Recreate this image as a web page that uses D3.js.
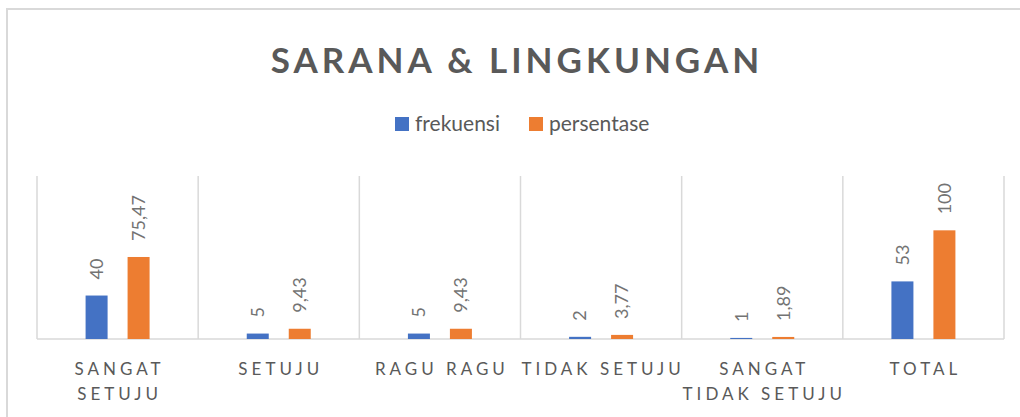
<!DOCTYPE html>
<html>
<head>
	<title>Sarana & Lingkungan</title>
	<script src="https://d3js.org/d3.v7.min.js"></script>
	<style>
	html, body {margin: 0; background: #fff; overflow: hidden}
	text {font-family: Lato, "Open Sans", sans-serif; fill: #595959;}
	.title {font-size: 35px; font-weight: bold; letter-spacing: 4px;}
	.legend text {font-size: 21px;}
	.cat {font-size: 17px; letter-spacing: 4px;}
	.val {font-size: 18px; fill: #737373;}
	.grid {stroke: #d9d9d9; stroke-width: 1.5px;}
	</style>
</head>
<body>
<script>
	var width = 1020, height = 417;

	var categories = ["SANGAT SETUJU", "SETUJU", "RAGU RAGU", "TIDAK SETUJU", "SANGAT TIDAK SETUJU", "TOTAL"];
	var seriesNames = ["frekuensi", "persentase"];
	var frekuensi = [40, 5, 5, 2, 1, 53];
	var persentase = [75.47, 9.43, 9.43, 3.77, 1.89, 100];
	var colors = ["#4472C4", "#ED7D31"];

	var values = [frekuensi, persentase];

	var plot = {left: 37, right: 1004, top: 176, bottom: 339};

	var svg = d3.select("body").append("svg")
		.attr("width", width)
		.attr("height", height);

	// outer chart border (cropped at right and bottom)
	svg.append("path")
		.attr("d", "M7,420 L7,9 L1030,9")
		.attr("fill", "none")
		.attr("stroke", "#d9d9d9")
		.attr("stroke-width", 2);

	svg.append("text")
		.attr("class", "title")
		.attr("x", 517)
		.attr("y", 73)
		.attr("text-anchor", "middle")
		.text("SARANA & LINGKUNGAN");

	// legend
	var legendX = [395, 529];
	var legend = svg.append("g").attr("class", "legend");
	seriesNames.forEach(function(name, i){
		legend.append("rect")
			.attr("x", legendX[i])
			.attr("y", 117)
			.attr("width", 14)
			.attr("height", 14)
			.attr("fill", colors[i]);
		legend.append("text")
			.attr("x", legendX[i] + 20)
			.attr("y", 131)
			.text(name);
	});

	var x = d3.scaleBand()
		.domain(categories)
		.range([plot.left, plot.right]);

	var bw = x.bandwidth();
	var xs = d3.scaleBand()
		.domain(seriesNames)
		.range([0, bw])
		.paddingInner(0.476)
		.paddingOuter(1.157);

	var y = d3.scaleLinear()
		.domain([0, 150])
		.range([plot.bottom, plot.top]);

	// vertical category dividers
	var ticks = categories.map(function(c){ return x(c); }).concat([plot.right]);
	svg.append("g").selectAll("line")
		.data(ticks)
		.enter().append("line")
		.attr("class", "grid")
		.attr("x1", function(d){ return d; })
		.attr("x2", function(d){ return d; })
		.attr("y1", y.range()[1])
		.attr("y2", y(0));

	svg.append("line")
		.attr("class", "grid")
		.attr("x1", plot.left)
		.attr("x2", plot.right)
		.attr("y1", y(0))
		.attr("y2", y(0));

	var fmt = function(v){ return String(v).replace(".", ","); };

	seriesNames.forEach(function(name, s){
		var g = svg.append("g");
		g.selectAll("rect")
			.data(values[s])
			.enter().append("rect")
			.attr("x", function(d, i){ return x(categories[i]) + xs(name); })
			.attr("y", function(d){ return y(d); })
			.attr("width", xs.bandwidth())
			.attr("height", function(d){ return y(0) - y(d); })
			.attr("fill", colors[s]);

		g.selectAll("text")
			.data(values[s])
			.enter().append("text")
			.attr("class", "val")
			.attr("transform", function(d, i){
				var cx = x(categories[i]) + xs(name) + xs.bandwidth() / 2;
				return "translate(" + cx + "," + (y(d) - 16) + ") rotate(-90)";
			})
			.attr("dy", "0.35em")
			.text(function(d){ return fmt(d); });
	});

	// category labels, wrapped to the band width
	var cats = svg.append("g");
	categories.forEach(function(c){
		var cx = x(c) + bw / 2 + 2;
		var t = cats.append("text")
			.attr("class", "cat")
			.attr("text-anchor", "middle")
			.attr("x", cx)
			.attr("y", 375);
		var words = c.split(" ");
		var line = [];
		var span = t.append("tspan").attr("x", cx);
		words.forEach(function(w){
			line.push(w);
			span.text(line.join(" "));
			if (span.node().getComputedTextLength() > bw + 6 && line.length > 1) {
				line.pop();
				span.text(line.join(" "));
				line = [w];
				span = t.append("tspan")
					.attr("x", cx)
					.attr("dy", 25)
					.text(w);
			}
		});
	});
</script>
</body>
</html>
